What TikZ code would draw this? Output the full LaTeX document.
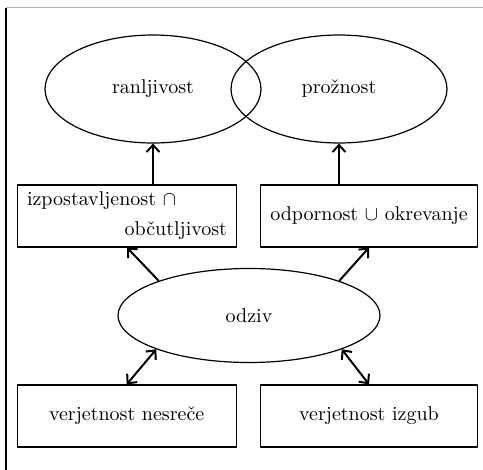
\documentclass[tikz,border=0pt]{standalone}
\usepackage{fontspec}
\usetikzlibrary{shapes.geometric,arrows.meta}
\tikzset{
  krog/.style={ellipse, draw, line width=0.6pt, inner sep=0pt},
  okvir/.style={rectangle, draw, line width=0.6pt, inner sep=0pt, minimum height=31pt},
  puscica/.style={line width=1pt}
}
\begin{document}
\begin{tikzpicture}[x=0.5pt, y=-0.5pt, font=\fontsize{10}{15}\selectfont, line join=round, >={Straight Barb[length=3.5pt,width=6.5pt]}]
            \useasboundingbox (0,0) rectangle (483,470);
            % okvir slike (zgoraj in levo)
            \draw[gray!60, line width=0.5pt] (6,8) -- (483,8);
            \draw[line width=0.6pt] (6,8) -- (6,470);
            % zgornja elipsa
            \node[krog, minimum width=108pt, minimum height=54pt] (ranlj) at (153,89) {ranljivost};
            \node[krog, minimum width=108pt, minimum height=54pt] (prozn) at (339,89) {prožnost};
            % srednji okvirji
            \node[okvir, minimum width=109.5pt, text width=100pt, align=left] (izp) at (127,216) {izpostavljenost $\cap$\\ \hfill občutljivost\hspace*{5.5pt}};
            \node[okvir, minimum width=108.5pt] (odp) at (369,216) {odpornost $\cup$ okrevanje};
            % odziv
            \node[krog, minimum width=131pt, minimum height=47pt] (odziv) at (249,315.5) {odziv};
            % spodnji okvirji
            \node[okvir, minimum width=109.5pt] (nes) at (126.7,416) {verjetnost nesreče};
            \node[okvir, minimum width=108.5pt] (izg) at (369,416) {verjetnost izgub};
            % puscice
            \draw[puscica,->] (izp.north -| ranlj.south) -- (ranlj.south);
            \draw[puscica,->] (odp.north -| prozn.south) -- (prozn.south);
            \draw[puscica,->] (odziv.159) -- (izp.south);
            \draw[puscica,->] (odziv.21) -- (odp.south);
            \draw[puscica,<->] (odziv.200) -- (nes.north);
            \draw[puscica,<->] (odziv.340) -- (izg.north);
        \end{tikzpicture}
\end{document}
